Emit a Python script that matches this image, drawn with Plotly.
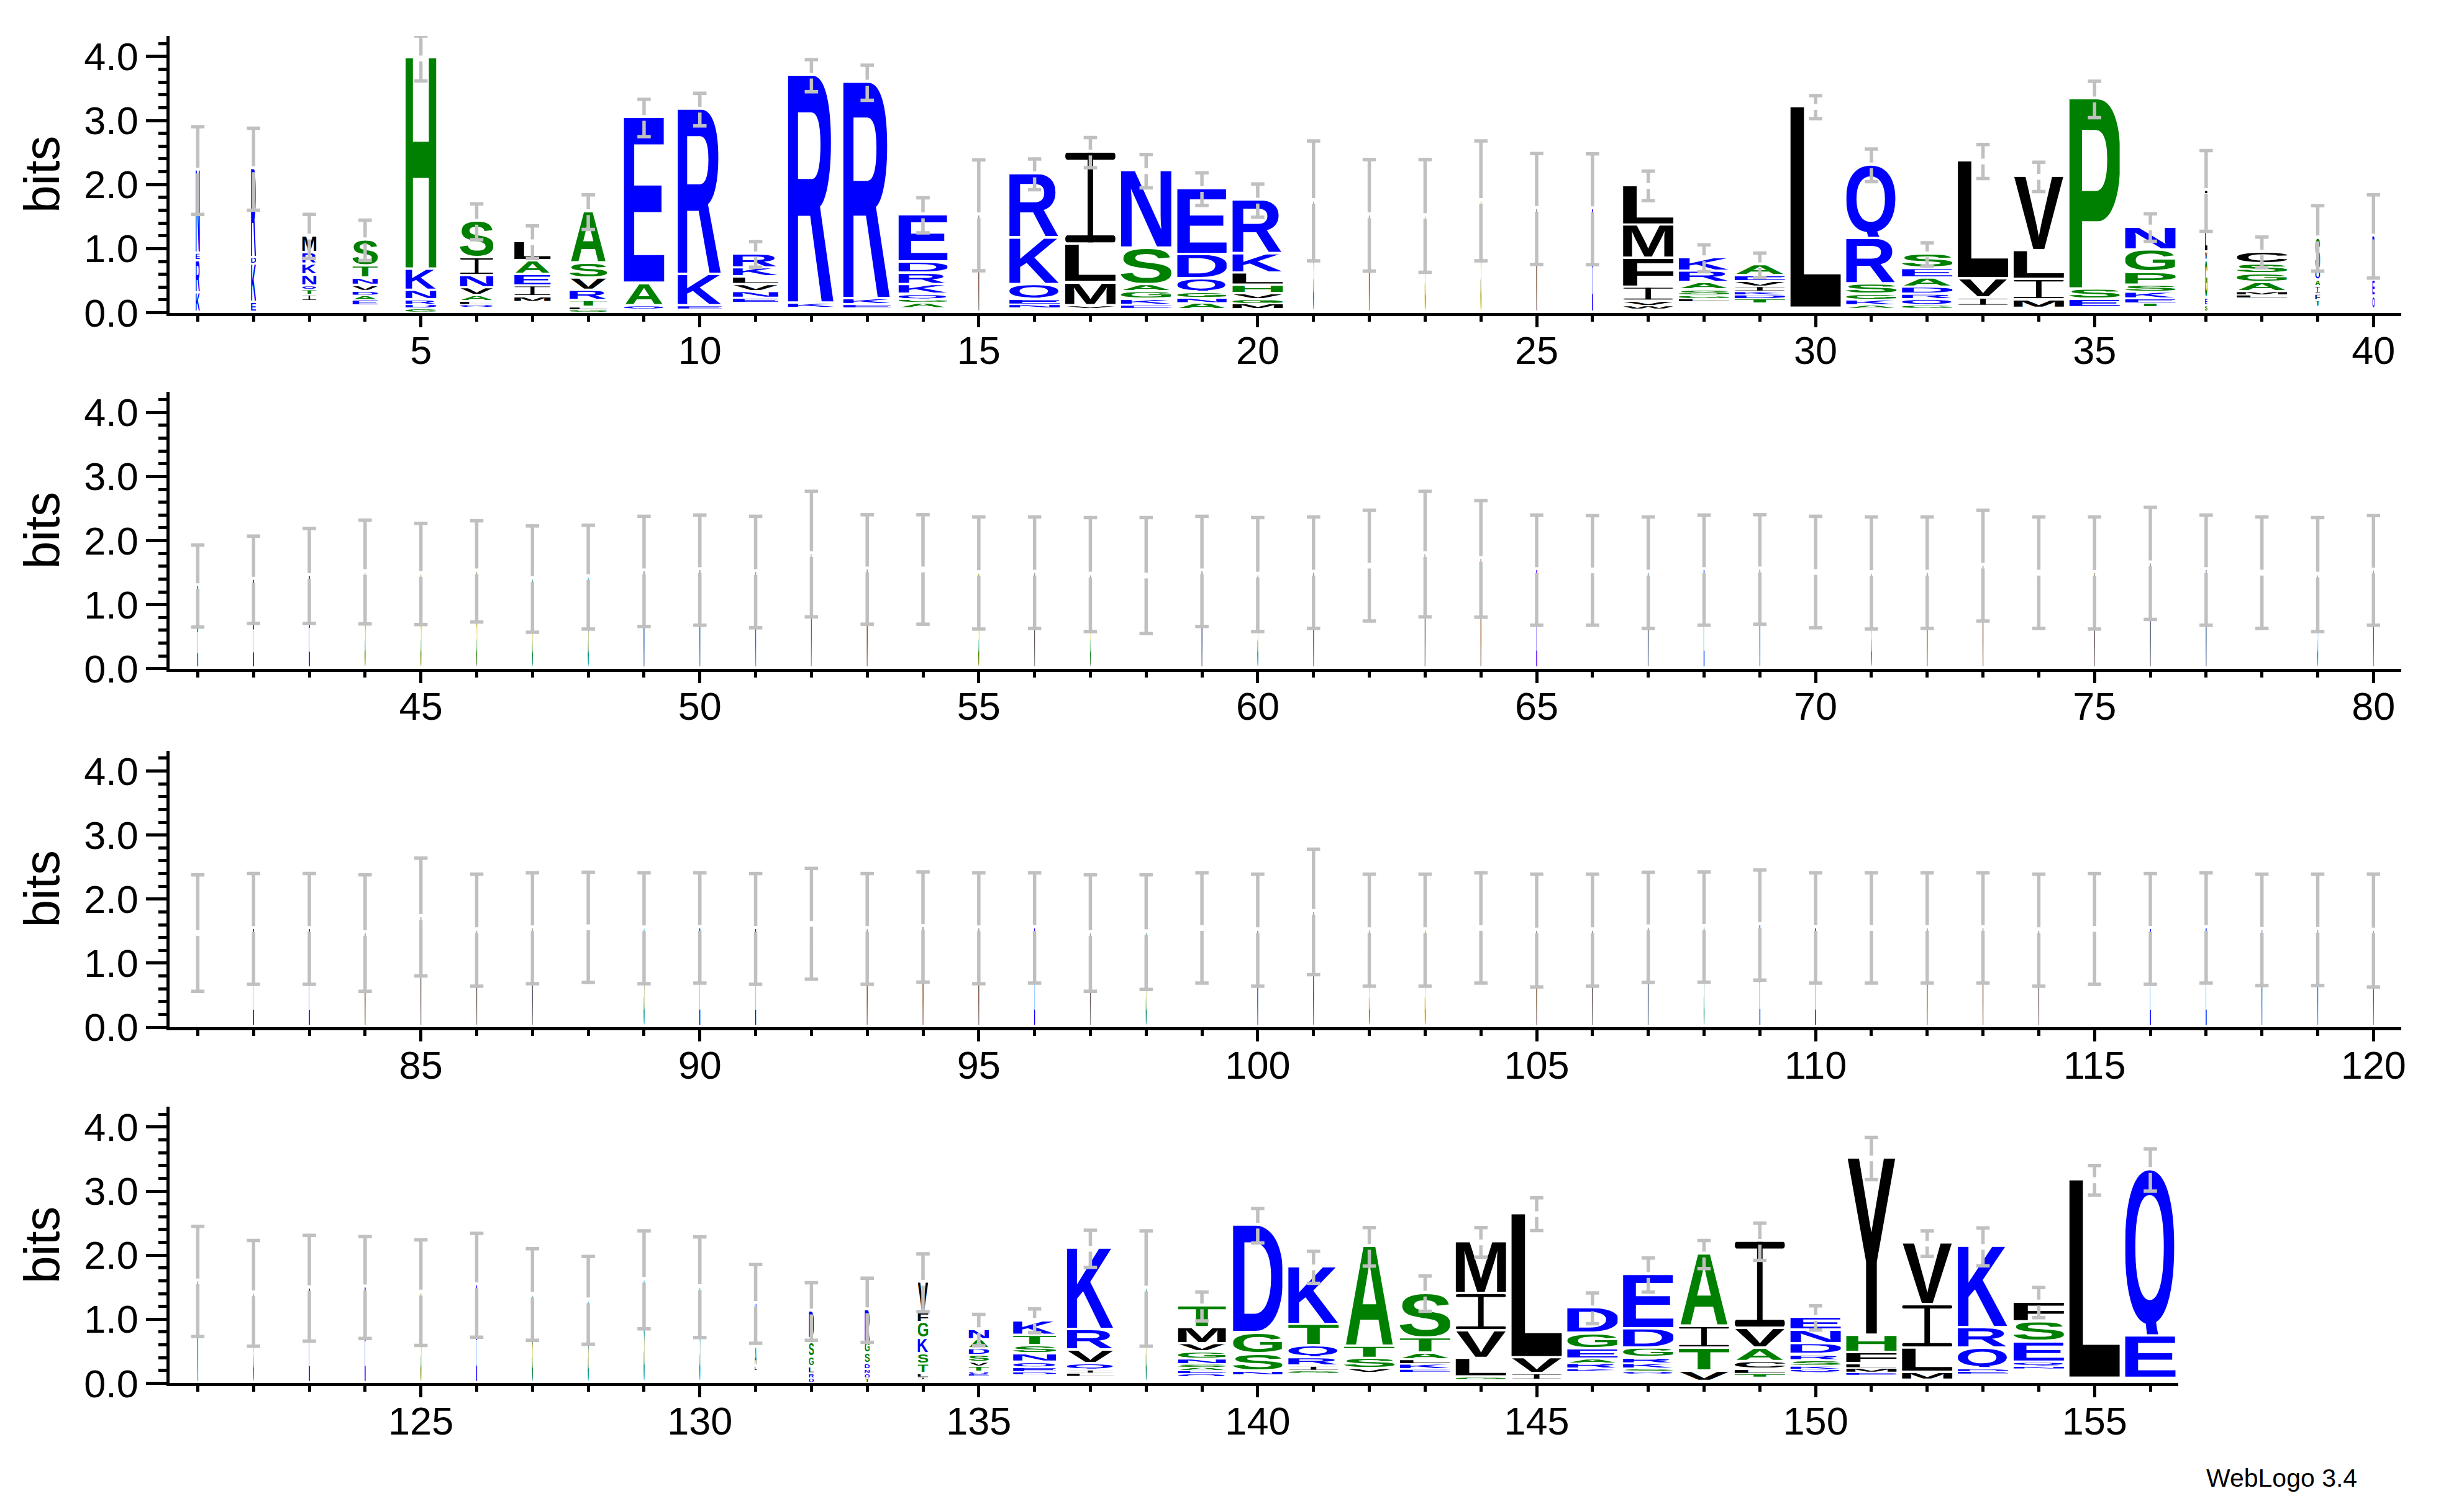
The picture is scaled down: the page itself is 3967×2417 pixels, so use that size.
import base64
import plotly.graph_objects as go

# Residues of each stack from bottom to top ("." = residues too small to draw)
STACK_LETTERS = [
    # 1-40
    "KREN", "EKDR", ".ITQNKRM", ".EADVNTS", "GDRNKH", ".QLAVNIS", ".MIEAL", "GLTRVSA",
    ".QAE", ".EKR", ".ENVLKR", ".KR", ".EKR", ".AGQKRDE", "M", ".NEQKR",
    ".VMLI", ".EKGASN", ".ANGQDE", ".MGVHLKR", "S", "M", "S", "S",
    "M", "E", ".WVIFML", ".LGSARK", ".TDKIVEA", ".L", ".AKGSRQ", ".GQRDAES",
    ".IVL", ".MILV", ".ESP", ".TEKSPGN", "SEGVLI", ".LMAGSC", ".TFIAQS", ".QEKR",
    # 41-80
    "E", "E", "E", "S", "S", "S", "S", "S", "M", "M",
    "M", "M", "M", ".", "S", "M", "S", ".", "M", "S",
    "M", ".", "M", "M", "E", ".", "M", "E", "M", ".",
    "S", "M", "M", ".", "M", "M", "M", ".", "S", "M",
    # 81-120
    ".", "E", "E", "M", "M", "M", "M", ".", "S", "E",
    "E", ".", "M", "M", "M", "E", "M", "S", ".", "M",
    "M", "S", "S", ".", "M", "M", "M", "S", "E", "E",
    ".", "M", "M", "M", ".", "E", "E", "M", "M", "M",
    # 121-156
    "M", "S", "E", "E", "S", "E", "S", "S", "S", "S",
    ".LAHK", "QRLGSED", "TQNDSGR", ".ILTSKGFV", ".EQTVSDAN", ".DEQNSTK", ".LIQVRK", "S",
    ".QEASNGVMT", ".NSGD", ".GIRQTK", ".VSTA", ".EKLATS", ".GLVIM", ".IVL", ".KRAEGD",
    ".QSKRGDE", ".VTIA", ".TLCAVI", ".QKSRDNE", ".EMLFHY", ".MLIV", ".EDQRK", ".NQESF",
    ".L", ".EQ",
]

# Heights (bits) of each residue, same order as STACK_LETTERS
STACK_HEIGHTS = [
    # 1-40
    [0.30, 0.50, 0.12, 1.30], [0.15, 0.60, 0.10, 1.39],
    [0.17, 0.10, 0.08, 0.06, 0.17, 0.17, 0.18, 0.26],
    [0.10, 0.09, 0.07, 0.07, 0.09, 0.11, 0.19, 0.41],
    [0.06, 0.06, 0.07, 0.15, 0.33, 3.30],
    [0.08, 0.04, 0.05, 0.09, 0.12, 0.19, 0.28, 0.57],
    [0.16, 0.08, 0.17, 0.18, 0.21, 0.30],
    [0.04, 0.04, 0.10, 0.16, 0.19, 0.24, 0.80],
    [0.05, 0.05, 0.35, 2.59], [0.05, 0.05, 0.49, 2.58],
    [0.15, 0.07, 0.10, 0.11, 0.12, 0.14, 0.22],
    [0.07, 0.07, 3.56], [0.06, 0.06, 0.09, 3.38],
    [0.06, 0.09, 0.05, 0.08, 0.15, 0.18, 0.17, 0.74],
    [1.52],
    [0.06, 0.06, 0.08, 0.23, 0.73, 1.00],
    [0.06, 0.04, 0.36, 0.60, 1.44],
    [0.06, 0.05, 0.09, 0.12, 0.11, 0.57, 1.21],
    [0.04, 0.10, 0.08, 0.09, 0.21, 0.38, 1.03],
    [0.05, 0.08, 0.07, 0.09, 0.13, 0.19, 0.30, 0.84],
    [1.745], [1.52], [1.51], [1.745], [1.62], [1.615],
    [0.05, 0.05, 0.07, 0.22, 0.45, 0.52, 0.62],
    [0.16, 0.05, 0.05, 0.09, 0.11, 0.18, 0.21],
    [0.14, 0.07, 0.06, 0.05, 0.08, 0.08, 0.09, 0.17],
    [0.06, 3.15],
    [0.06, 0.05, 0.08, 0.09, 0.16, 0.71, 1.15],
    [0.06, 0.05, 0.09, 0.08, 0.11, 0.14, 0.15, 0.23],
    [0.09, 0.13, 0.30, 1.84],
    [0.06, 0.13, 0.32, 0.45, 1.16],
    [0.07, 0.13, 0.16, 2.97],
    [0.08, 0.06, 0.07, 0.10, 0.11, 0.20, 0.35, 0.36],
    [0.10, 0.12, 0.58, 0.14, 0.50, 0.46],
    [0.22, 0.05, 0.05, 0.14, 0.14, 0.15, 0.19],
    [0.08, 0.10, 0.10, 0.12, 0.10, 0.15, 0.51],
    [0.05, 0.20, 0.25, 0.30, 0.39],
    # 41-80
    [1.29], [1.39], [1.45], [1.51], [1.48], [1.52], [1.40], [1.43], [1.52], [1.54],
    [1.51], [1.79], [1.55], [1.55], [1.495], [1.50], [1.47], [1.455], [1.52], [1.47],
    [1.50], [1.61], [1.79], [1.715], [1.54], [1.535], [1.50], [1.54], [1.55], [1.51],
    [1.495], [1.50], [1.61], [1.50], [1.495], [1.645], [1.54], [1.50], [1.47], [1.535],
    # 81-120
    [1.47], [1.535], [1.535], [1.47], [1.72], [1.515], [1.545], [1.56], [1.545], [1.55],
    [1.535], [1.615], [1.535], [1.565], [1.545], [1.55], [1.47], [1.485], [1.55], [1.515],
    [1.80], [1.515], [1.515], [1.55], [1.51], [1.515], [1.56], [1.565], [1.595], [1.55],
    [1.55], [1.55], [1.55], [1.515], [1.535], [1.535], [1.55], [1.52], [1.52], [1.51],
    # 121-156
    [1.59], [1.405], [1.485], [1.495], [1.415], [1.53], [1.385], [1.295], [1.615], [1.50],
    [0.18, 0.08, 0.30, 0.30, 0.38],
    [0.07, 0.07, 0.11, 0.15, 0.23, 0.06, 0.43],
    [0.07, 0.07, 0.07, 0.09, 0.16, 0.17, 0.51],
    [0.05, 0.04, 0.05, 0.15, 0.16, 0.24, 0.25, 0.15, 0.48],
    [0.11, 0.03, 0.03, 0.09, 0.06, 0.11, 0.10, 0.14, 0.16],
    [0.13, 0.04, 0.07, 0.08, 0.13, 0.13, 0.16, 0.235],
    [0.10, 0.05, 0.05, 0.10, 0.21, 0.32, 1.27],
    [1.48],
    [0.10, 0.04, 0.05, 0.05, 0.05, 0.08, 0.11, 0.13, 0.25, 0.34],
    [0.12, 0.06, 0.27, 0.33, 1.68],
    [0.15, 0.04, 0.07, 0.13, 0.19, 0.33, 0.90],
    [0.16, 0.06, 0.16, 0.19, 1.56],
    [0.16, 0.05, 0.08, 0.07, 0.10, 0.24, 0.70],
    [0.05, 0.04, 0.29, 0.43, 0.58, 0.81],
    [0.04, 0.10, 0.25, 2.25],
    [0.18, 0.04, 0.08, 0.07, 0.16, 0.24, 0.40],
    [0.14, 0.04, 0.04, 0.08, 0.09, 0.15, 0.30, 0.85],
    [0.02, 0.16, 0.36, 0.34, 1.13],
    [0.09, 0.05, 0.07, 0.12, 0.21, 0.31, 1.36],
    [0.16, 0.05, 0.05, 0.09, 0.09, 0.17, 0.21, 0.20],
    [0.12, 0.04, 0.07, 0.07, 0.17, 0.27, 2.77],
    [0.04, 0.12, 0.38, 0.68, 0.96],
    [0.14, 0.04, 0.04, 0.32, 0.32, 1.27],
    [0.22, 0.04, 0.06, 0.32, 0.31, 0.31],
    [0.07, 3.10],
    [0.07, 0.66, 2.60],
]

# Stack width as fraction of a full column (columns with many gaps are narrow)
STACK_WIDTHS = (
    [0.085, 0.10, 0.28, 0.50, 0.61, 0.66, 0.72, 0.74, 0.80, 0.88,
     0.90, 0.93, 0.95, 0.97, 0.022, 1.0, 1.0, 1.0, 0.98, 1.0,
     0.022, 0.022, 0.022, 0.022, 0.022, 0.022, 1.0, 1.0, 1.0, 1.0,
     1.0, 1.0, 1.0, 1.0, 1.0, 1.0, 0.05, 1.0, 0.10, 0.05]
    + [0.022] * 80
    + [0.022] * 10
    + [0.04, 0.10, 0.10, 0.21, 0.40, 0.85, 0.93, 0.022, 0.95, 0.98,
       1.0, 1.0, 1.0, 1.0, 1.0, 1.0, 1.0, 1.0, 1.0, 1.0,
       1.0, 1.0, 1.0, 1.0, 1.0, 1.0]
)

# Half-length of the error bar of each stack (bits)
ERROR_HALF = [
    0.685, 0.64, 0.345, 0.315, 0.35, 0.28, 0.255, 0.27, 0.29, 0.255,
    0.20, 0.25, 0.275, 0.275, 0.865, 0.24, 0.235, 0.26, 0.255, 0.26,
    0.935, 0.87, 0.88, 0.935, 0.865, 0.865, 0.23, 0.21, 0.19, 0.18,
    0.255, 0.18, 0.265, 0.23, 0.285, 0.215, 0.63, 0.24, 0.51, 0.65,
    0.64, 0.68, 0.74, 0.81, 0.79, 0.79, 0.83, 0.81, 0.86, 0.86,
    0.87, 0.98, 0.855, 0.855, 0.875, 0.87, 0.89, 0.905, 0.86, 0.89,
    0.87, 0.865, 0.98, 0.91, 0.86, 0.855, 0.87, 0.86, 0.855, 0.87,
    0.875, 0.87, 0.865, 0.87, 0.875, 0.875, 0.86, 0.87, 0.89, 0.855,
    0.91, 0.865, 0.865, 0.91, 0.92, 0.875, 0.865, 0.86, 0.865, 0.86,
    0.865, 0.865, 0.865, 0.86, 0.865, 0.86, 0.91, 0.895, 0.86, 0.875,
    0.98, 0.875, 0.875, 0.86, 0.88, 0.875, 0.86, 0.86, 0.86, 0.86,
    0.86, 0.86, 0.86, 0.875, 0.865, 0.865, 0.86, 0.87, 0.87, 0.88,
    0.86, 0.825, 0.825, 0.795, 0.825, 0.81, 0.715, 0.685, 0.765, 0.785,
    0.615, 0.45, 0.50, 0.45, 0.245, 0.185, 0.29, 0.90, 0.225, 0.27,
    0.25, 0.30, 0.275, 0.23, 0.255, 0.24, 0.265, 0.22, 0.29, 0.19,
    0.33, 0.20, 0.295, 0.235, 0.23, 0.33,
]

ROW_FIRST = [1, 41, 81, 121]
ROW_LAST = [40, 80, 120, 156]
Y_TICK_VALUES = [0, 1, 2, 3, 4]
Y_TICK_TEXT = ["0.0", "1.0", "2.0", "3.0", "4.0"]
Y_MAX = 4.32  # log2(20)

# ---------------- style / layout constants ----------------
W, H = 3967, 2417
X_LEFT = 266
PX_PER_POS = 90
ZERO_Y = [502, 1084, 1670, 2252]
PX_PER_BIT = 104.7
FULL_STACK = 0.9
FONT = "Liberation Sans, Arial, Helvetica, sans-serif"

COLORS = {}
for c in "RKDENQ":
    COLORS[c] = "#0000ff"
for c in "SGHTAP":
    COLORS[c] = "#008000"
for c in "YVMCLFIW":
    COLORS[c] = "#000000"

# glyph bounding boxes of the bold sans font (units per em 2048): xMin, xMax, yMin, yMax
CAP = 1409
ROUND_TOP, ROUND_BOT = 1433, -24
BBOX = {
    "A": (0, 1479, 0, CAP), "C": (84, 1378, ROUND_BOT, ROUND_TOP), "D": (150, 1374, 0, CAP),
    "E": (150, 1256, 0, CAP), "F": (151, 1149, 0, CAP), "G": (90, 1479, ROUND_BOT, ROUND_TOP),
    "H": (150, 1329, 0, CAP), "K": (150, 1482, 0, CAP), "L": (157, 1184, 0, CAP),
    "M": (146, 1558, 0, CAP), "N": (150, 1327, 0, CAP), "P": (150, 1279, 0, CAP),
    "Q": (88, 1544, -110, ROUND_TOP), "R": (150, 1476, 0, CAP), "S": (70, 1279, ROUND_BOT, ROUND_TOP),
    "T": (40, 1212, 0, CAP), "V": (-2, 1367, 0, CAP), "W": (7, 1927, 0, CAP),
    "Y": (-3, 1369, 0, CAP),
}

_cache = {}


def glyph_source(ch):
    if ch in _cache:
        return _cache[ch]
    col = COLORS[ch]
    if ch == "I":
        body = (f"<rect x='0' y='0' width='100' height='8' rx='4' fill='{col}'/>"
                f"<rect x='0' y='92' width='100' height='8' rx='4' fill='{col}'/>"
                f"<rect x='44.5' y='0' width='11' height='100' fill='{col}'/>")
        vb = "0 0 100 100"
    else:
        x0, x1, y0, y1 = BBOX[ch]
        body = (f"<text x='0' y='0' font-family='{FONT}' font-weight='bold' "
                f"font-size='2048' fill='{col}'>{ch}</text>")
        vb = f"{x0} {-y1} {x1 - x0} {y1 - y0}"
    svg = (f"<svg xmlns='http://www.w3.org/2000/svg' width='200' height='200' "
           f"viewBox='{vb}' preserveAspectRatio='none'>{body}</svg>")
    uri = "data:image/svg+xml;base64," + base64.b64encode(svg.encode()).decode()
    _cache[ch] = uri
    return uri


fig = go.Figure()
images = []
layout_axes = {}

for r in range(4):
    n = r + 1
    sfx = "" if n == 1 else str(n)
    xref, yref = "x" + sfx, "y" + sfx
    p0, p1 = ROW_FIRST[r], ROW_LAST[r]
    x_right = X_LEFT + (p1 - p0 + 1) * PX_PER_POS
    zero = ZERO_Y[r]
    top = zero - Y_MAX * PX_PER_BIT

    layout_axes["xaxis" + sfx] = dict(
        domain=[X_LEFT / W, x_right / W], range=[p0 - 0.5, p1 + 0.5], anchor=yref,
        showline=True, linecolor="black", linewidth=5, showgrid=False, zeroline=False,
        ticks="outside", ticklen=18, tickwidth=5, tickcolor="black",
        tickmode="linear", tick0=0, dtick=5, tickformat="d",
        ticklabelstandoff=-16,
        tickfont=dict(family=FONT, size=63, color="black"),
        minor=dict(ticks="outside", ticklen=9, tickwidth=5, tickcolor="black",
                   tickmode="linear", tick0=0, dtick=1, showgrid=False),
        fixedrange=True,
    )
    layout_axes["yaxis" + sfx] = dict(
        domain=[1 - zero / H, 1 - top / H], range=[0, Y_MAX], anchor=xref,
        showline=True, linecolor="black", linewidth=5, showgrid=False, zeroline=False,
        ticks="outside", ticklen=33, tickwidth=5, tickcolor="black",
        tickmode="array", tickvals=Y_TICK_VALUES, ticktext=Y_TICK_TEXT,
        tickfont=dict(family=FONT, size=63, color="black"),
        minor=dict(ticks="outside", ticklen=13, tickwidth=5, tickcolor="black",
                   tickmode="linear", tick0=0, dtick=0.2, showgrid=False),
        title=dict(text="bits", font=dict(family=FONT, size=80, color="black"), standoff=15),
        fixedrange=True,
    )

    ex, ey = [], []
    for pos in range(p0, p1 + 1):
        i = pos - 1
        letters = STACK_LETTERS[i]
        heights = STACK_HEIGHTS[i]
        width = STACK_WIDTHS[i] * FULL_STACK
        base = 0.0
        for ch, h in zip(letters, heights):
            if ch != "." and width > 0:
                pad = min(0.035, 0.3 * h)
                images.append(dict(
                    source=glyph_source(ch), xref=xref, yref=yref,
                    x=pos - width / 2, y=base + h, sizex=width, sizey=h - pad,
                    xanchor="left", yanchor="top", sizing="stretch", layer="below",
                ))
            base += h
        c, e = base, ERROR_HALF[i]
        gap = 0.045
        cap = 0.12
        ex += [pos, pos, None, pos, pos, None,
               pos - cap, pos + cap, None, pos - cap, pos + cap, None]
        ey += [c - e, c - gap, None, c + gap, c + e, None,
               c - e, c - e, None, c + e, c + e, None]

    fig.add_trace(go.Scatter(
        x=ex, y=ey, mode="lines", xaxis=xref, yaxis=yref,
        line=dict(color="#c0c0c0", width=5.5), hoverinfo="skip",
        showlegend=False, cliponaxis=False,
    ))

fig.update_layout(
    width=W, height=H, margin=dict(l=0, r=0, t=0, b=0),
    paper_bgcolor="white", plot_bgcolor="rgba(0,0,0,0)",
    showlegend=False, images=images,
    font=dict(family=FONT, color="black"),
    annotations=[dict(
        text="WebLogo 3.4", xref="paper", yref="paper",
        x=3797 / W, y=1 - 2407 / H, xanchor="right", yanchor="middle",
        showarrow=False, font=dict(family=FONT, size=41, color="black"),
    )],
    **layout_axes,
)

fig.write_html("out.html")
